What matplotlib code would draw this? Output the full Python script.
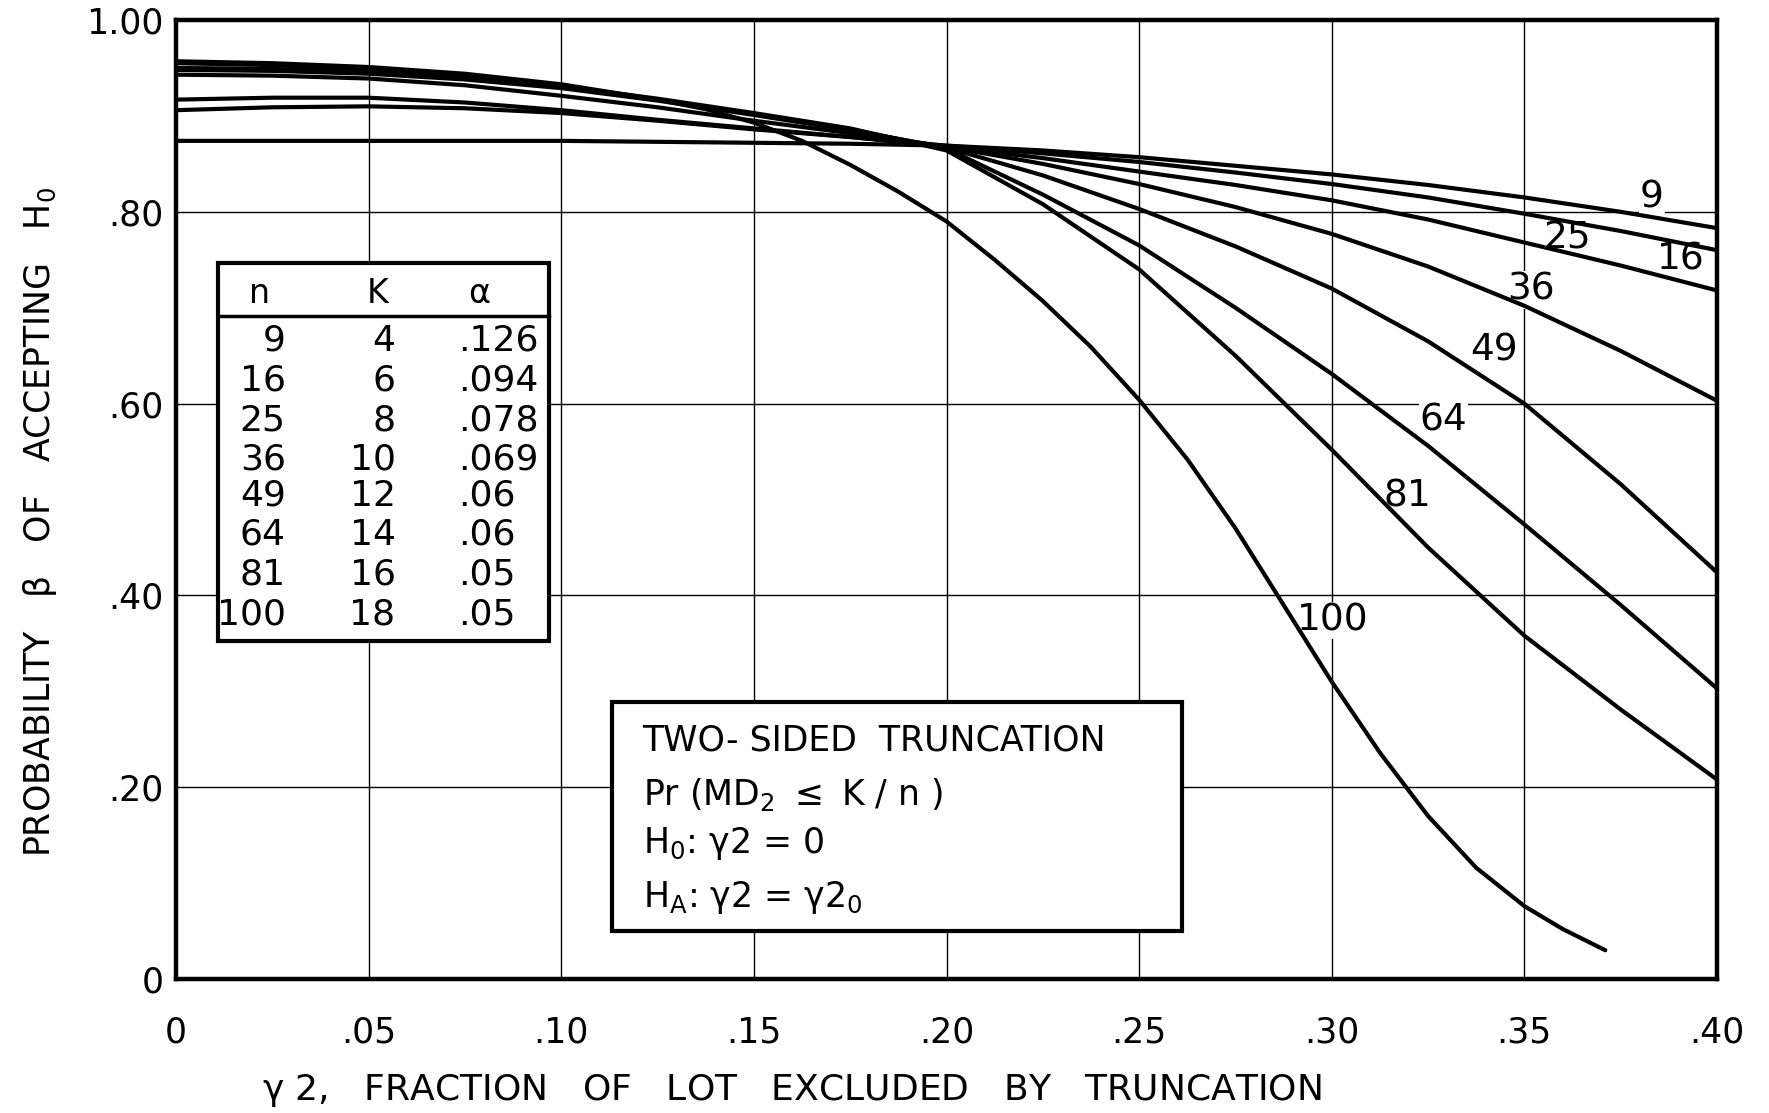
import numpy as np
import matplotlib
matplotlib.use('Agg')
import matplotlib.pyplot as plt
from matplotlib.patches import Rectangle

# curve values (gamma2 vs beta)
x_grid = [0.000, 0.025, 0.050, 0.075, 0.100, 0.125, 0.150, 0.175, 0.200,
          0.225, 0.250, 0.275, 0.300, 0.325, 0.350, 0.375, 0.400]

beta_9  = [0.874, 0.874, 0.874, 0.874, 0.874, 0.873, 0.872, 0.871, 0.869,
           0.864, 0.857, 0.848, 0.839, 0.828, 0.815, 0.800, 0.783]
beta_16 = [0.906, 0.909, 0.910, 0.908, 0.903, 0.895, 0.886, 0.878, 0.869,
           0.861, 0.852, 0.841, 0.829, 0.815, 0.798, 0.780, 0.760]
beta_25 = [0.917, 0.919, 0.919, 0.914, 0.906, 0.896, 0.887, 0.878, 0.868,
           0.856, 0.842, 0.828, 0.812, 0.792, 0.768, 0.744, 0.718]
beta_36 = [0.943, 0.942, 0.939, 0.932, 0.921, 0.909, 0.895, 0.882, 0.868,
           0.850, 0.829, 0.805, 0.777, 0.743, 0.702, 0.655, 0.603]
beta_49 = [0.948, 0.947, 0.944, 0.938, 0.929, 0.916, 0.901, 0.885, 0.867,
           0.838, 0.803, 0.764, 0.720, 0.665, 0.600, 0.516, 0.424]
beta_64 = [0.950, 0.949, 0.946, 0.940, 0.930, 0.917, 0.902, 0.886, 0.866,
           0.818, 0.765, 0.700, 0.631, 0.556, 0.474, 0.390, 0.303]
beta_81 = [0.955, 0.953, 0.948, 0.941, 0.931, 0.918, 0.903, 0.887, 0.864,
           0.808, 0.740, 0.650, 0.552, 0.450, 0.358, 0.281, 0.208]

x_100    = [0.000, 0.025, 0.050, 0.075, 0.100, 0.125, 0.1375, 0.150, 0.1625,
            0.175, 0.1875, 0.200, 0.2125, 0.225, 0.2375, 0.250, 0.2625,
            0.275, 0.2875, 0.300, 0.3125, 0.325, 0.3375, 0.350, 0.360, 0.371]
beta_100 = [0.957, 0.955, 0.951, 0.944, 0.933, 0.917, 0.907, 0.893, 0.874,
            0.849, 0.821, 0.790, 0.750, 0.707, 0.659, 0.604, 0.542,
            0.470, 0.390, 0.310, 0.236, 0.170, 0.116, 0.076, 0.052, 0.030]

# table in the inset
tab_n     = ['9', '16', '25', '36', '49', '64', '81', '100']
tab_K     = ['4', '6', '8', '10', '12', '14', '16', '18']
tab_alpha = ['.126', '.094', '.078', '.069', '.06', '.06', '.05', '.05']

# curve labels (text, x, y)
curve_labels = [('9', 0.3831, 0.815), ('25', 0.3612, 0.772), ('16', 0.3905, 0.750),
                ('36', 0.3516, 0.7185), ('49', 0.3421, 0.655), ('64', 0.329, 0.582),
                ('81', 0.3197, 0.5036), ('100', 0.3003, 0.374)]

xticks = [0, .05, .10, .15, .20, .25, .30, .35, .40]
xtick_labels = ['0', '.05', '.10', '.15', '.20', '.25', '.30', '.35', '.40']
yticks = [0, .2, .4, .6, .8, 1.0]
ytick_labels = ['0', '.20', '.40', '.60', '.80', '1.00']

plt.rc('font', family='DejaVu Sans')
plt.rcParams.update({'mathtext.default': 'regular'})

fig = plt.figure(figsize=(17.69, 11.13), dpi=100)
ax = fig.add_axes([0.0995, 0.1204, 0.8711, 0.8616])

curves = [beta_9, beta_16, beta_25, beta_36, beta_49, beta_64, beta_81]
for b in curves:
    ax.plot(x_grid, b, 'k-', linewidth=3.0, zorder=3, solid_capstyle='round',
            solid_joinstyle='round')
ax.plot(x_100, beta_100, 'k-', linewidth=3.0, zorder=3, solid_capstyle='round',
        solid_joinstyle='round')

ax.set_xlim(0, 0.40)
ax.set_ylim(0, 1.0)
ax.set_xticks(xticks)
ax.set_xticklabels(xtick_labels)
ax.set_yticks(yticks)
ax.set_yticklabels(ytick_labels)
ax.grid(True, color='black', linewidth=1.0, zorder=1)
ax.set_axisbelow(True)
ax.tick_params(length=0, labelsize=25)
ax.tick_params(axis='x', pad=26)
ax.tick_params(axis='y', pad=9)
for s in ax.spines.values():
    s.set_linewidth(3.2)

for txt, lx, ly in curve_labels:
    ax.text(lx, ly, txt, fontsize=27, ha='center', va='center', zorder=2.5,
            bbox=dict(facecolor='white', edgecolor='none', pad=0.5))

# inset table
ax.add_patch(Rectangle((0.0108, 0.3525), 0.0859, 0.3941, facecolor='white',
                       edgecolor='black', linewidth=3.0, zorder=4))
ax.plot([0.0108, 0.0967], [0.6914, 0.6914], 'k-', linewidth=2.5, zorder=5)
ax.text(0.0217, 0.7153, 'n', fontsize=24, ha='center', va='center', zorder=5)
ax.text(0.0523, 0.7153, 'K', fontsize=24, ha='center', va='center', zorder=5)
ax.text(0.0788, 0.7153, r'$\alpha$', fontsize=24, ha='center', va='center', zorder=5)
row_y = [0.6653, 0.6236, 0.5819, 0.5422, 0.5037, 0.4630, 0.4213, 0.3796]
for i in range(len(tab_n)):
    ax.text(0.0285, row_y[i], tab_n[i], fontsize=26, ha='right', va='center', zorder=5)
    ax.text(0.0570, row_y[i], tab_K[i], fontsize=26, ha='right', va='center', zorder=5)
    ax.text(0.0733, row_y[i], tab_alpha[i], fontsize=26, ha='left', va='center', zorder=5)

# hypothesis box
ax.add_patch(Rectangle((0.1132, 0.0505), 0.1478, 0.2388, facecolor='white',
                       edgecolor='black', linewidth=3.0, zorder=4))
box_lines = ['TWO- SIDED  TRUNCATION',
             r'Pr (MD$_2$ $\leq$ K / n )',
             r'H$_0$: $\gamma$2 = 0',
             r'H$_A$: $\gamma$2 = $\gamma$2$_0$']
box_y = [0.2482, 0.1919, 0.1408, 0.0855]
for t, yy in zip(box_lines, box_y):
    ax.text(0.1211, yy, t, fontsize=25, ha='left', va='center', zorder=5)

fig.text(0.0226, 0.5314, r'PROBABILITY   $\beta$   OF   ACCEPTING   H$_0$',
         rotation=90, fontsize=25, ha='center', va='center')
fig.text(0.148, 0.0198,
         r'$\gamma$ 2,   FRACTION   OF   LOT   EXCLUDED   BY   TRUNCATION',
         fontsize=26, ha='left', va='center')

plt.savefig('out.png', dpi=100)
